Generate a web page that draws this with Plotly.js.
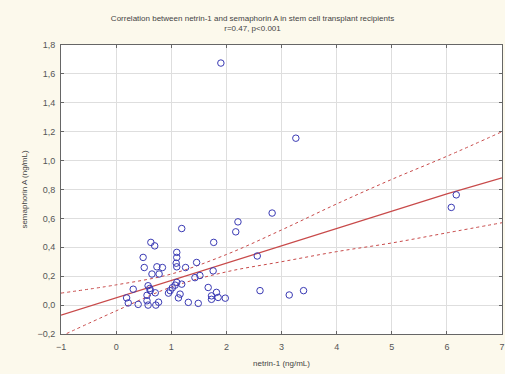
<!DOCTYPE html>
<html>
<head>
<meta charset="utf-8">
<script src="https://cdn.plot.ly/plotly-3.0.1.min.js"></script>
<style>html,body{margin:0;padding:0;background:#fcf9ec;}</style>
</head>
<body>
<div id="chart" style="width:505px;height:374px;"></div>
<script>
// netrin-1 (ng/mL) and semaphorin A (ng/mL) per patient
const netrin = [1.90,3.26,2.83,2.21,2.17,1.77,1.19,0.63,0.70,0.49,0.51,0.74,0.84,0.65,0.78,
  1.10,1.10,1.09,1.10,1.26,1.46,1.43,1.52,1.76,1.10,1.19,1.07,1.02,0.98,0.95,1.16,1.13,1.31,
  1.49,1.67,1.73,1.82,1.85,1.73,1.98,0.31,0.19,0.22,0.40,0.58,0.62,0.71,0.56,0.56,0.58,0.77,
  0.72,0.61,2.56,2.61,3.14,3.40,6.17,6.08];
const semaphorin = [1.675,1.155,0.637,0.576,0.507,0.434,0.53,0.434,0.41,0.33,0.26,0.265,0.26,0.215,0.215,
  0.365,0.33,0.29,0.265,0.26,0.295,0.19,0.205,0.237,0.157,0.145,0.138,0.12,0.10,0.083,0.076,0.05,0.019,
  0.012,0.122,0.064,0.088,0.053,0.04,0.048,0.11,0.05,0.015,0.005,0.134,0.10,0.085,0.068,0.03,0.0,0.02,
  0.0,0.115,0.34,0.10,0.07,0.10,0.763,0.676];
// regression line and 95% confidence band, read at x = -1..7
const fitX = [-1,0,1,2,3,4,5,6,7];
const fitY = [-0.07,0.05,0.17,0.29,0.41,0.53,0.65,0.77,0.88];
const upperY = [0.083,0.14,0.215,0.35,0.52,0.70,0.87,1.03,1.20];
const lowerY = [-0.215,-0.04,0.125,0.23,0.30,0.37,0.43,0.50,0.57];
const xTicks = [-1,0,1,2,3,4,5,6,7];
const yTicks = [-0.2,0,0.2,0.4,0.6,0.8,1.0,1.2,1.4,1.6,1.8];

const red = '#c84a4a';
const fam = 'Liberation Sans, Arial, sans-serif';
const traces = [
  {x: fitX, y: upperY, mode: 'lines', line: {color: red, width: 1, dash: '3px,3px', shape: 'spline'}, hoverinfo: 'skip'},
  {x: fitX, y: lowerY, mode: 'lines', line: {color: red, width: 1, dash: '3px,3px', shape: 'spline'}, hoverinfo: 'skip'},
  {x: fitX, y: fitY, mode: 'lines', line: {color: red, width: 1.2}, hoverinfo: 'skip'},
  {x: netrin, y: semaphorin, mode: 'markers', cliponaxis: false,
   marker: {symbol: 'circle-open', size: 6.5, color: '#3a3ab4', line: {width: 1}}}
];
const axisCommon = {
  showline: true, linecolor: '#666', linewidth: 1, mirror: 'ticks',
  ticks: 'inside', ticklen: 3, tickcolor: '#666',
  showgrid: true, gridcolor: '#dedede', gridwidth: 1, zeroline: false,
  tickfont: {family: fam, size: 9, color: '#555'}
};
const layout = {
  width: 505, height: 374,
  paper_bgcolor: '#fcf9ec', plot_bgcolor: '#ffffff',
  separators: ', ',
  showlegend: false,
  margin: {l: 61, r: 3, t: 45, b: 40},
  title: {text: 'Correlation between netrin-1 and semaphorin A in stem cell transplant recipients<br>r=0.47, p<0.001',
    font: {family: fam, size: 8, color: '#444'},
    x: 0.5, xanchor: 'center', y: 0.944, yanchor: 'top'},
  xaxis: Object.assign({}, axisCommon, {range: [-1, 7], tickvals: xTicks, tickformat: 'd', ticklabelstandoff: 4,
    title: {text: 'netrin-1 (ng/mL)', standoff: 9, font: {family: fam, size: 8, color: '#444'}}}),
  yaxis: Object.assign({}, axisCommon, {range: [-0.2, 1.8], tickvals: yTicks, tickformat: '.1f', ticklabelstandoff: 3,
    title: {text: 'semaphorin A (ng/mL)', standoff: 8, font: {family: fam, size: 8, color: '#444'}}})
};
Plotly.newPlot('chart', traces, layout, {displayModeBar: false, staticPlot: true});
</script>
</body>
</html>
